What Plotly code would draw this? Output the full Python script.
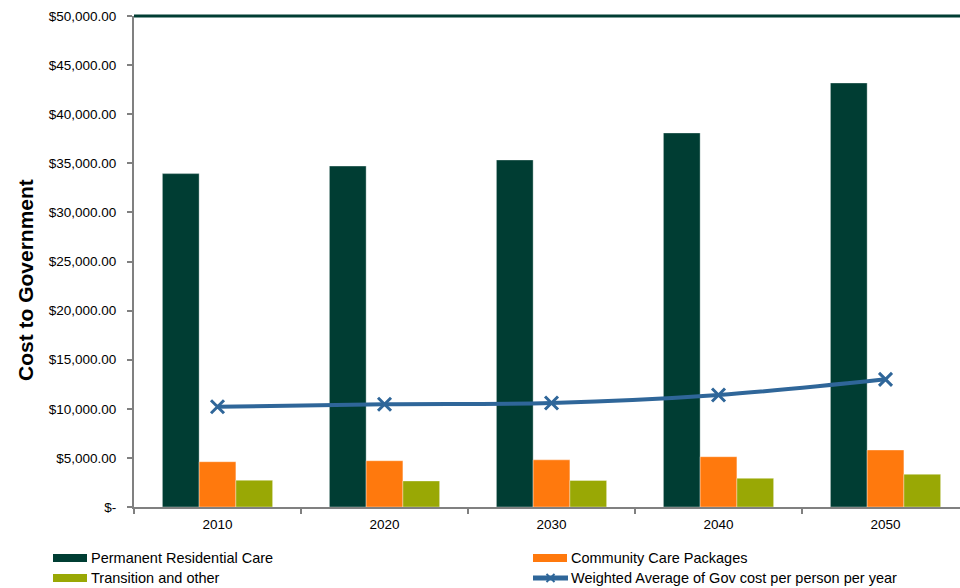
import plotly.graph_objects as go

years = ["2010", "2020", "2030", "2040", "2050"]
residential = [33950, 34720, 35340, 38090, 43180]
community = [4610, 4710, 4800, 5120, 5800]
transition = [2720, 2650, 2700, 2920, 3330]
weighted_avg = [10210, 10460, 10590, 11400, 13000]

series_names = ["Permanent Residential Care", "Community Care Packages",
                "Transition and other",
                "Weighted Average of Gov cost per person per year"]

y_ticks = list(range(0, 50001, 5000))
y_tick_text = ["$-" if v == 0 else "${:,.2f}".format(v) for v in y_ticks]

c_res = "#003D33"
c_com = "#FF790D"
c_tra = "#99A805"
c_avg = "#2F6699"
axis_grey = "#808080"
font_family = "Liberation Sans, Arial, sans-serif"

W, H = 960, 588
M_L, M_R, M_T, M_B = 134, 0, 16, 81
plot_w = W - M_L - M_R
plot_h = H - M_T - M_B


def px_x(px):
    """Convert a horizontal pixel position to paper coordinates."""
    return (px - M_L) / plot_w


def px_y(py):
    """Convert a vertical pixel position to paper coordinates."""
    return (H - M_B - py) / plot_h


fig = go.Figure()

edge = dict(color="rgba(255,255,255,0.35)", width=1)
fig.add_trace(go.Bar(x=years, y=residential, name=series_names[0],
                     marker=dict(color=c_res, line=edge)))
fig.add_trace(go.Bar(x=years, y=community, name=series_names[1],
                     marker=dict(color=c_com, line=edge)))
fig.add_trace(go.Bar(x=years, y=transition, name=series_names[2],
                     marker=dict(color=c_tra, line=edge)))
fig.add_trace(go.Scatter(x=years, y=weighted_avg, mode="lines+markers",
                         name=series_names[3],
                         line=dict(color=c_avg, width=4, shape="spline"),
                         marker=dict(symbol="x-thin", size=13,
                                     line=dict(color=c_avg, width=3))))

# frame line along the top of the plot area
fig.add_shape(type="line", xref="paper", yref="paper", x0=0, x1=1, y0=1, y1=1,
              line=dict(color=c_res, width=3))

# y-axis title
fig.add_annotation(text="<b>Cost to Government</b>", textangle=-90,
                   xref="paper", yref="paper", x=px_x(25), y=px_y(280),
                   xanchor="center", yanchor="middle", showarrow=False,
                   font=dict(size=21, color="#000000"))

# two-column legend below the axis
legend_items = [
    (series_names[0], c_res, "bar", 53, 558),
    (series_names[1], c_com, "bar", 533, 558),
    (series_names[2], c_tra, "bar", 53, 578),
    (series_names[3], c_avg, "line", 533, 578),
]
for name, color, kind, sx, sy in legend_items:
    if kind == "bar":
        fig.add_shape(type="rect", xref="paper", yref="paper",
                      x0=px_x(sx), x1=px_x(sx + 34), y0=px_y(sy - 4), y1=px_y(sy + 4),
                      line=dict(width=0), fillcolor=color)
    else:
        fig.add_shape(type="line", xref="paper", yref="paper",
                      x0=px_x(sx), x1=px_x(sx + 35), y0=px_y(sy), y1=px_y(sy),
                      line=dict(color=color, width=5))
        cx = sx + 17.5
        for dx0, dy0, dx1, dy1 in [(-4, -4, 4, 4), (-4, 4, 4, -4)]:
            fig.add_shape(type="line", xref="paper", yref="paper",
                          x0=px_x(cx + dx0), y0=px_y(sy + dy0),
                          x1=px_x(cx + dx1), y1=px_y(sy + dy1),
                          line=dict(color=color, width=2))
    fig.add_annotation(text=name, xref="paper", yref="paper",
                       x=px_x(sx + 36), y=px_y(sy), xanchor="left", yanchor="middle",
                       showarrow=False, font=dict(size=14.5, color="#000000"))

fig.update_layout(
    width=W, height=H,
    margin=dict(l=M_L, r=M_R, t=M_T, b=M_B),
    paper_bgcolor="white", plot_bgcolor="white",
    font=dict(family=font_family, size=13.5, color="#000000"),
    showlegend=False,
    barmode="group", bargap=0.34, bargroupgap=0,
    xaxis=dict(type="category", range=[-0.5, 4.446], tickson="boundaries",
               ticks="outside", ticklen=5, tickcolor=axis_grey, tickwidth=2,
               showline=True, linecolor=axis_grey, linewidth=2,
               showgrid=False, tickfont=dict(size=13.5), automargin=False,
               ticklabelstandoff=4),
    yaxis=dict(range=[0, 50000], tickvals=y_ticks, ticktext=y_tick_text,
               ticks="outside", ticklen=5, tickcolor=axis_grey, tickwidth=2,
               showline=True, linecolor=axis_grey, linewidth=2,
               showgrid=False, zeroline=False, tickfont=dict(size=13.5),
               automargin=False, ticklabelstandoff=8),
)

fig.write_html("out.html")
